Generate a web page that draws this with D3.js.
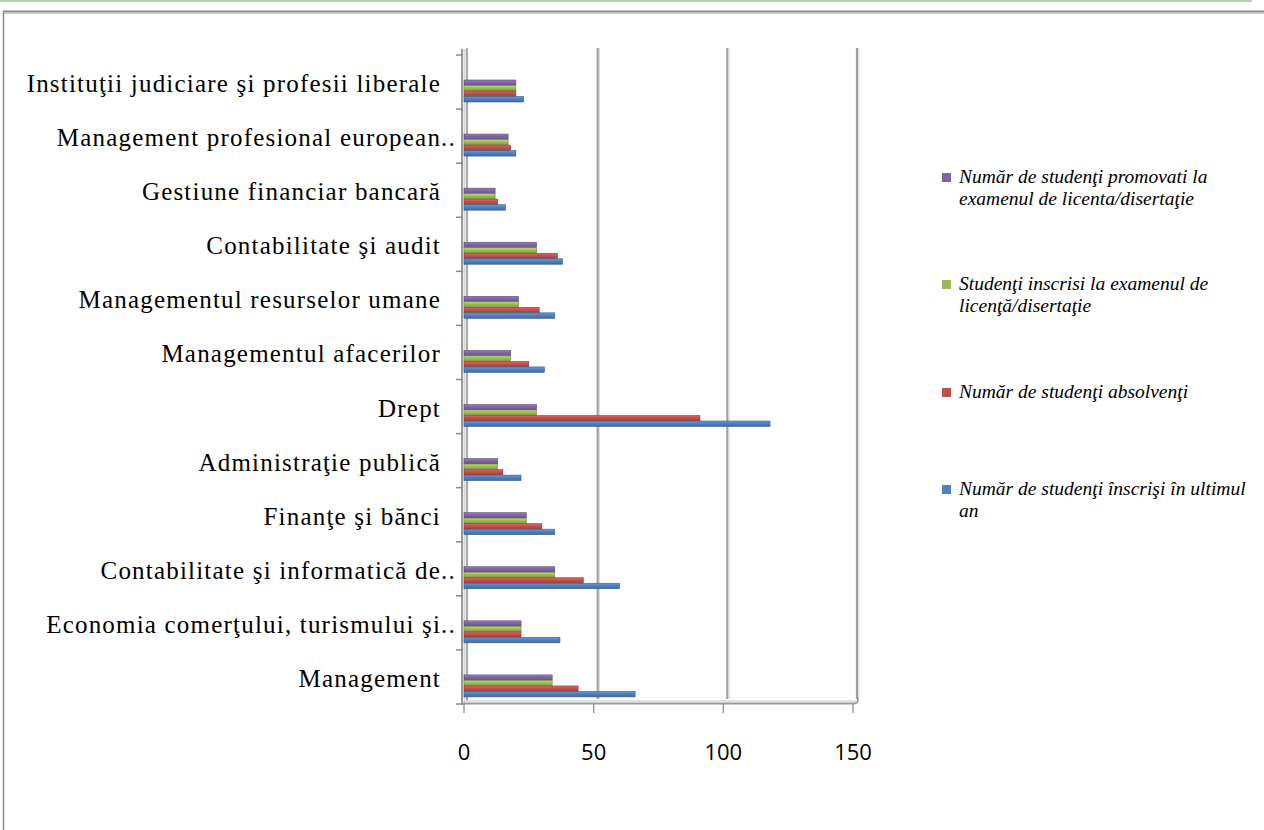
<!DOCTYPE html>
<html>
<head>
<meta charset="utf-8">
<script src="https://cdn.jsdelivr.net/npm/d3@7"></script>
<style>
  html, body { margin: 0; padding: 0; background: #fff; }
  svg { display: block; }
</style>
</head>
<body>
<svg id="chart" width="1264" height="830"></svg>
<script>
// ---- data (bottom-to-top category order, as in the chart) ----
const categories = [
  "Management",
  "Economia comerţului, turismului şi..",
  "Contabilitate şi informatică de..",
  "Finanţe şi bănci",
  "Administraţie publică",
  "Drept",
  "Managementul afacerilor",
  "Managementul resurselor umane",
  "Contabilitate şi audit",
  "Gestiune financiar bancară",
  "Management profesional european..",
  "Instituţii judiciare şi profesii liberale"
];
const enrolledLastYear = [66, 37, 60, 35, 22, 118, 31, 35, 38, 16, 20, 23];
const graduates        = [44, 22, 46, 30, 15, 91, 25, 29, 36, 13, 18, 20];
const examEnrolled     = [34, 22, 35, 24, 13, 28, 18, 21, 28, 12, 17, 20];
const examPassed       = [34, 22, 35, 24, 13, 28, 18, 21, 28, 12, 17, 20];

const seriesNames = [
  "Număr de studenţi promovati la\nexamenul de licenta/disertaţie",
  "Studenţi inscrisi la examenul de\nlicenţă/disertaţie",
  "Număr de studenţi absolvenţi",
  "Număr de studenţi înscrişi în ultimul\nan"
];
const xTicks = [0, 50, 100, 150];

// ---- series table built from the arrays (top-to-bottom within a group) ----
const series = [
  { key: "passed",   name: seriesNames[0], values: examPassed,       color: "#8064a2" },
  { key: "exam",     name: seriesNames[1], values: examEnrolled,     color: "#9bbb59" },
  { key: "grad",     name: seriesNames[2], values: graduates,        color: "#c0504d" },
  { key: "enrolled", name: seriesNames[3], values: enrolledLastYear, color: "#4f81bd" }
];

const svg = d3.select("#chart");
const defs = svg.append("defs");

// gradients for a slight 3D look
series.forEach(s => {
  const c = d3.color(s.color);
  const g = defs.append("linearGradient")
    .attr("id", "g-" + s.key).attr("x1", 0).attr("y1", 0).attr("x2", 0).attr("y2", 1);
  g.append("stop").attr("offset", "0%").attr("stop-color", c.brighter(0.5));
  g.append("stop").attr("offset", "45%").attr("stop-color", s.color);
  g.append("stop").attr("offset", "100%").attr("stop-color", c.darker(0.6));
});

// ---- outer frame ----
svg.append("line").attr("x1", 0).attr("x2", 1252).attr("y1", 1).attr("y2", 1)
  .attr("stroke", "#b5d4ac").attr("stroke-width", 2);
svg.append("line").attr("x1", 3).attr("x2", 1264).attr("y1", 11.5).attr("y2", 11.5)
  .attr("stroke", "#8a8a8a").attr("stroke-width", 2);
svg.append("line").attr("x1", 3).attr("x2", 1264).attr("y1", 13.5).attr("y2", 13.5)
  .attr("stroke", "#c8c8c8").attr("stroke-width", 1);
svg.append("line").attr("x1", 3.5).attr("x2", 3.5).attr("y1", 11).attr("y2", 830)
  .attr("stroke", "#8a8a8a").attr("stroke-width", 1.5);

// ---- scales ----
const x = d3.scaleLinear().domain([0, 150]).range([464, 853]);
const y = d3.scaleBand().domain(categories).range([704, 55]).paddingInner(0).paddingOuter(0);
const inner = d3.scaleBand().domain(series.map(s => s.key)).range([25, 47]).padding(0);
const depth = 4;

// ---- back gridlines ----
const grid = svg.append("g");
grid.selectAll("line.g1").data(xTicks.filter(t => t > 0)).join("line")
  .attr("x1", d => x(d) + depth).attr("x2", d => x(d) + depth)
  .attr("y1", 48).attr("y2", 699)
  .attr("stroke", "#a0a0a0").attr("stroke-width", 2.2);
grid.selectAll("line.g2").data(xTicks.filter(t => t > 0)).join("line")
  .attr("x1", d => x(d) + depth + 1.8).attr("x2", d => x(d) + depth + 1.8)
  .attr("y1", 48).attr("y2", 699)
  .attr("stroke", "#dcdcdc").attr("stroke-width", 1.2);

// left wall
svg.append("line").attr("x1", 462).attr("x2", 462).attr("y1", 49).attr("y2", 705)
  .attr("stroke", "#9a9a9a").attr("stroke-width", 2);
svg.append("line").attr("x1", 464.5).attr("x2", 464.5).attr("y1", 49).attr("y2", 703)
  .attr("stroke", "#d6d6d6").attr("stroke-width", 2);
svg.append("line").attr("x1", 467).attr("x2", 467).attr("y1", 48).attr("y2", 701)
  .attr("stroke", "#a8a8a8").attr("stroke-width", 2);

// floor
svg.append("path")
  .attr("d", `M462,703.5 L${x(150) + 1},703.5 Q${x(150) + 5},703.5 ${x(150) + 5},698`)
  .attr("fill", "none").attr("stroke", "#9a9a9a").attr("stroke-width", 2);
svg.append("line").attr("x1", 467).attr("x2", x(150) + 4).attr("y1", 701).attr("y2", 701)
  .attr("stroke", "#e2e2e2").attr("stroke-width", 2);

// ---- category axis ticks (left) ----
const catTicks = svg.append("g");
catTicks.selectAll("line").data(categories.map(c => y(c) + y.bandwidth()).concat([y(categories[categories.length - 1])]))
  .join("line")
  .attr("x1", 456).attr("x2", 463).attr("y1", d => d).attr("y2", d => d)
  .attr("stroke", "#8a8a8a").attr("stroke-width", 1.5);

// category labels
svg.append("g").selectAll("text").data(categories).join("text")
  .attr("x", d => d.endsWith("..") ? 456 : 441)
  .attr("y", d => y(d) + y.bandwidth() / 2 + 10)
  .attr("text-anchor", "end")
  .attr("font-family", "'Liberation Serif', 'Times New Roman', serif")
  .attr("font-size", 25)
  .attr("letter-spacing", 1.2)
  .attr("fill", "#000")
  .text(d => d);

// ---- bars ----
const barsG = svg.append("g");
series.forEach(s => {
  barsG.append("g").selectAll("rect").data(categories.map((c, i) => ({ c, v: s.values[i] })))
    .join("rect")
    .attr("x", x(0))
    .attr("y", d => y(d.c) + inner(s.key))
    .attr("width", d => x(d.v) - x(0))
    .attr("height", inner.bandwidth())
    .attr("fill", `url(#g-${s.key})`)
    .attr("stroke", d3.color(s.color).darker(0.8))
    .attr("stroke-width", 0.6);
});

// ---- value axis (bottom) ----
const xAxisG = svg.append("g");
xAxisG.selectAll("line").data(xTicks).join("line")
  .attr("x1", d => x(d)).attr("x2", d => x(d))
  .attr("y1", 704).attr("y2", 713)
  .attr("stroke", "#8a8a8a").attr("stroke-width", 1.3);
xAxisG.selectAll("text").data(xTicks).join("text")
  .attr("x", d => x(d)).attr("y", 760)
  .attr("text-anchor", "middle")
  .attr("font-family", "'Open Sans', 'Liberation Sans', sans-serif")
  .attr("font-size", 22)
  .attr("fill", "#000")
  .text(d => d3.format("d")(d));

// ---- legend ----
const legendBaselines = [183, 290, 398, 495];
const legend = svg.append("g");
series.forEach((s, i) => {
  const gy = legendBaselines[i];
  legend.append("rect").attr("x", 942).attr("y", gy - 10).attr("width", 9).attr("height", 9)
    .attr("fill", s.color);
  const t = legend.append("text")
    .attr("font-family", "'Liberation Serif', 'Times New Roman', serif")
    .attr("font-style", "italic").attr("font-size", 19.5).attr("fill", "#000");
  s.name.split("\n").forEach((line, j) => {
    t.append("tspan").attr("x", 959).attr("y", gy + j * 22).text(line);
  });
});
</script>
</body>
</html>
